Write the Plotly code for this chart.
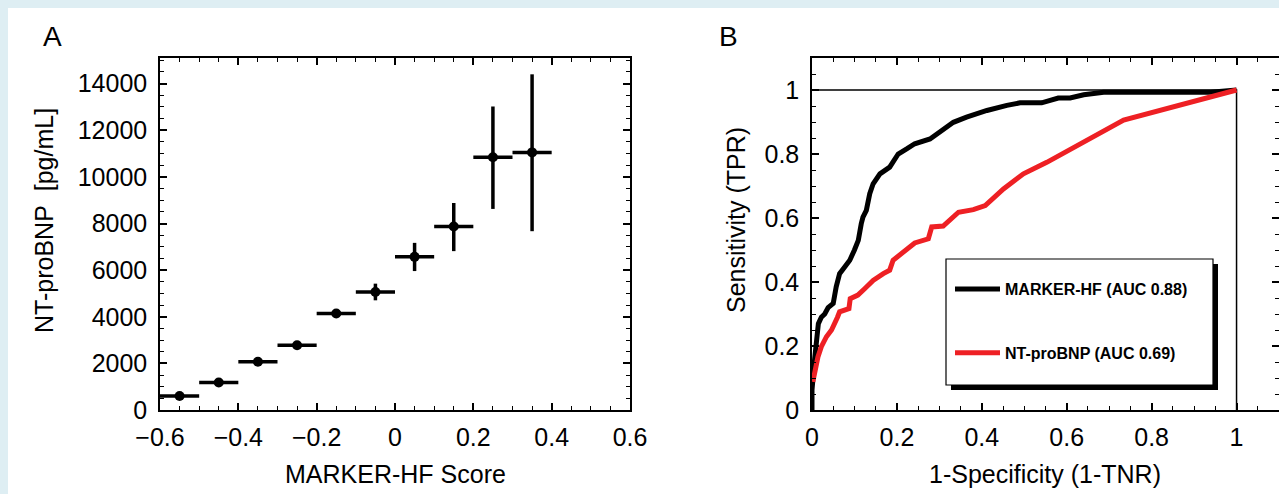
import plotly.graph_objects as go

W, H = 1279, 494

# ---------------- Panel A data ----------------
score_bins = [-0.55, -0.45, -0.35, -0.25, -0.15, -0.05, 0.05, 0.15, 0.25, 0.35]
bin_half_width = [0.05] * 10
ntprobnp_mean = [600, 1180, 2070, 2780, 4140, 5060, 6570, 7870, 10840, 11050]
ntprobnp_upper = [680, 1280, 2180, 2900, 4280, 5420, 7170, 8880, 13020, 14400]
ntprobnp_lower = [520, 1080, 1960, 2660, 4000, 4705, 5960, 6815, 8626, 7670]

# ---------------- Panel B data ----------------
marker_fpr = [0.0, 0.0, 0.006, 0.012, 0.015, 0.022, 0.03, 0.038, 0.05, 0.057, 0.065, 0.077,
              0.089, 0.1, 0.109, 0.116, 0.12, 0.128, 0.136, 0.144, 0.16, 0.183, 0.195, 0.203,
              0.223, 0.242, 0.278, 0.301, 0.333, 0.364, 0.412, 0.459, 0.49, 0.541, 0.58,
              0.608, 0.64, 0.687, 0.939, 1.0]
marker_tpr = [0.0, 0.062, 0.156, 0.26, 0.27, 0.29, 0.30, 0.32, 0.333, 0.385, 0.426, 0.447,
              0.468, 0.5, 0.53, 0.582, 0.603, 0.624, 0.676, 0.707, 0.738, 0.759, 0.78, 0.80,
              0.816, 0.832, 0.847, 0.868, 0.899, 0.915, 0.936, 0.952, 0.96, 0.96, 0.975,
              0.975, 0.985, 0.993, 0.993, 1.0]
nt_fpr = [0.002, 0.006, 0.014, 0.022, 0.034, 0.046, 0.054, 0.06, 0.065, 0.073, 0.087, 0.09,
          0.108, 0.124, 0.144, 0.168, 0.183, 0.191, 0.215, 0.242, 0.274, 0.282, 0.309, 0.345,
          0.38, 0.408, 0.451, 0.498, 0.553, 0.616, 0.679, 0.734, 1.0]
nt_tpr = [0.088, 0.114, 0.166, 0.198, 0.229, 0.25, 0.27, 0.29, 0.307, 0.312, 0.317, 0.348,
          0.359, 0.379, 0.405, 0.426, 0.437, 0.468, 0.494, 0.522, 0.535, 0.572, 0.575, 0.618,
          0.626, 0.639, 0.691, 0.738, 0.774, 0.819, 0.868, 0.906, 1.0]
ref_x = [0, 1, 1]
ref_y = [1, 1, 0]
legend_names = ["MARKER-HF (AUC 0.88)", "NT-proBNP (AUC 0.69)"]

FONT = "Liberation Sans Narrow, Liberation Sans, Arial, sans-serif"
BG = "#deeef3"


def px(x):
    return x / W


def py(y):
    return 1 - y / H


fig = go.Figure()

err_plus = [u - m for u, m in zip(ntprobnp_upper, ntprobnp_mean)]
err_minus = [m - l for m, l in zip(ntprobnp_mean, ntprobnp_lower)]

fig.add_trace(go.Scatter(
    x=score_bins, y=ntprobnp_mean, mode="markers",
    marker=dict(color="black", size=10),
    error_x=dict(type="data", array=bin_half_width, symmetric=True,
                 thickness=3.5, width=0, color="black"),
    error_y=dict(type="data", array=err_plus, arrayminus=err_minus,
                 symmetric=False, thickness=3.5, width=0, color="black"),
    showlegend=False, xaxis="x", yaxis="y"))

fig.add_trace(go.Scatter(
    x=ref_x, y=ref_y, mode="lines", line=dict(color="black", width=1.5),
    showlegend=False, xaxis="x2", yaxis="y2"))

fig.add_trace(go.Scatter(
    x=marker_fpr, y=marker_tpr, mode="lines", name=legend_names[0],
    line=dict(color="black", width=5), legendgroup="g1",
    xaxis="x2", yaxis="y2"))
fig.add_trace(go.Scatter(
    x=nt_fpr, y=nt_tpr, mode="lines", name=legend_names[1],
    line=dict(color="#ee2024", width=5), legendgroup="g2",
    xaxis="x2", yaxis="y2"))

axis_common = dict(
    showline=True, linecolor="black", linewidth=1.5, mirror="ticks",
    ticks="inside", ticklen=7, tickwidth=1.5, tickcolor="black",
    showgrid=False, zeroline=False, automargin=False,
    tickfont=dict(family=FONT, size=25, color="black"),
)

fig.update_layout(
    template="none",
    width=W, height=H,
    margin=dict(l=0, r=0, t=0, b=0, pad=0),
    paper_bgcolor=BG, plot_bgcolor="white",
    font=dict(family=FONT, color="black"),
    xaxis=dict(domain=[px(160), px(630)], range=[-0.6, 0.6], dtick=0.2, tick0=0,
               minor=dict(dtick=0.05, ticks="inside", ticklen=4, tickwidth=1.2, tickcolor="black"),
               anchor="y", ticklabelstandoff=4, **axis_common),
    yaxis=dict(domain=[py(410), py(58)], range=[0, 15100], dtick=2000, tickformat="d",
               minor=dict(dtick=500, ticks="inside", ticklen=4, tickwidth=1.2, tickcolor="black"),
               anchor="x", ticklabelstandoff=6, **axis_common),
    xaxis2=dict(domain=[px(812), px(1279)], range=[0, 1.1], dtick=0.2, tick0=0,
                minor=dict(dtick=0.05, ticks="inside", ticklen=4, tickwidth=1.2, tickcolor="black"),
                anchor="y2", ticklabelstandoff=4, **axis_common),
    yaxis2=dict(domain=[py(410), py(58)], range=[0, 1.1], dtick=0.2, tick0=0,
                minor=dict(dtick=0.05, ticks="inside", ticklen=4, tickwidth=1.2, tickcolor="black"),
                anchor="x2", ticklabelstandoff=6, **axis_common),
    showlegend=True,
    legend=dict(x=px(950), y=py(272), xanchor="left", yanchor="top",
                bgcolor="rgba(0,0,0,0)", borderwidth=0,
                font=dict(family=FONT, size=16, color="black", weight="bold"),
                traceorder="grouped", tracegroupgap=40, itemwidth=45),
)

shapes = [
    # white panel
    dict(type="rect", xref="paper", yref="paper", x0=px(8), x1=1.0, y0=0, y1=py(8),
         fillcolor="white", line=dict(width=0), layer="below"),
    # legend shadow
    dict(type="rect", xref="paper", yref="paper", x0=px(951), x1=px(1218), y0=py(390), y1=py(264),
         fillcolor="black", line=dict(width=0), layer="above"),
    # legend box
    dict(type="rect", xref="paper", yref="paper", x0=px(946), x1=px(1213), y0=py(385), y1=py(259),
         fillcolor="white", line=dict(color="black", width=1.2), layer="above"),
]
fig.update_layout(shapes=shapes)

annotations = [
    dict(text="A", x=px(52), y=py(37), font=dict(size=28)),
    dict(text="B", x=px(728), y=py(37), font=dict(size=28)),
    dict(text="MARKER-HF Score", x=px(395), y=py(474), font=dict(size=25)),
    dict(text="1-Specificity (1-TNR)", x=px(1045), y=py(474), font=dict(size=25)),
    dict(text="NT-proBNP\u00a0 [pg/mL]", x=px(44), y=py(221), textangle=-90, font=dict(size=25)),
    dict(text="Sensitivity (TPR)", x=px(736), y=py(220), textangle=-90, font=dict(size=25)),
]
for a in annotations:
    a.update(xref="paper", yref="paper", showarrow=False, xanchor="center", yanchor="middle")
    a["font"].update(family=FONT, color="black")
fig.update_layout(annotations=annotations)

fig.write_html(
    "out.html",
    config={"displayModeBar": False},
    post_script="document.body.style.margin='0';document.body.style.overflow='hidden';",
)
